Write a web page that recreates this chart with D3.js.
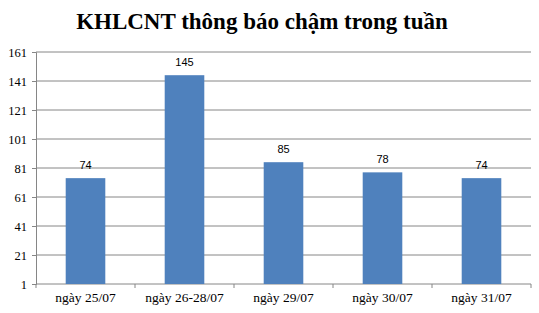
<!DOCTYPE html>
<html>
<head>
<meta charset="utf-8">
<script src="https://cdn.jsdelivr.net/npm/d3@7"></script>
<style>
  body { margin: 0; background: #fff; }
</style>
</head>
<body>
<script>
// chart data
const categories = ['ngày 25/07', 'ngày 26-28/07', 'ngày 29/07', 'ngày 30/07', 'ngày 31/07'];
const values = [74, 145, 85, 78, 74];
const yTicks = [1, 21, 41, 61, 81, 101, 121, 141, 161];

const width = 539;
const height = 313;
const margin = {top: 52, right: 8, bottom: 29, left: 36};
const innerWidth = width - margin.left - margin.right;
const innerHeight = height - margin.top - margin.bottom;

const svg = d3.select('body').append('svg').attr('width', width).attr('height', height);

// title
svg.append('text')
    .attr('x', 262).attr('y', 29)
    .attr('text-anchor', 'middle')
    .attr('font-family', 'Liberation Serif, Times New Roman, serif')
    .attr('font-weight', 'bold').attr('font-size', 23)
    .text('KHLCNT thông báo chậm trong tuần');

const grp = svg.append('g').attr('transform', `translate(${margin.left}, ${margin.top})`);

const xScale = d3.scaleBand().domain(categories).range([0, innerWidth]).paddingInner(0.6).paddingOuter(0.3);
const xEdge = d3.scaleBand().domain(categories).range([0, innerWidth]);
const yScale = d3.scaleLinear().domain([1, 161]).range([innerHeight, 0]);

// gridlines
grp.selectAll('line.grid')
    .data(yTicks.slice(1))
    .join('line')
    .attr('class', 'grid')
    .attr('x1', 0).attr('x2', innerWidth)
    .attr('y1', d => yScale(d)).attr('y2', d => yScale(d))
    .attr('stroke', '#868686').attr('stroke-width', 1);

// y axis
const yAxis = grp.append('g')
    .call(d3.axisLeft(yScale).tickValues(yTicks).tickSize(4).tickPadding(5).tickFormat(d3.format('d')));
yAxis.select('.domain').attr('stroke', '#868686');
yAxis.selectAll('.tick line').attr('stroke', '#868686');
yAxis.selectAll('text')
    .attr('font-family', 'Liberation Serif, Times New Roman, serif')
    .attr('font-size', 12.5).attr('fill', '#000');

// x axis with ticks at category edges
const xAxis = grp.append('g').attr('transform', `translate(0, ${innerHeight})`);
xAxis.append('line')
    .attr('x1', 0).attr('x2', innerWidth)
    .attr('stroke', '#868686');
xAxis.selectAll('line.tk')
    .data(categories.concat(['end']))
    .join('line')
    .attr('class', 'tk')
    .attr('x1', (d, i) => i < categories.length ? xEdge(d) : innerWidth)
    .attr('x2', (d, i) => i < categories.length ? xEdge(d) : innerWidth)
    .attr('y1', 0).attr('y2', 4)
    .attr('stroke', '#868686');
xAxis.selectAll('text')
    .data(categories)
    .join('text')
    .attr('x', d => xEdge(d) + xEdge.bandwidth() / 2)
    .attr('y', 18)
    .attr('text-anchor', 'middle')
    .attr('font-family', 'Liberation Serif, Times New Roman, serif')
    .attr('font-size', 13.5)
    .text(d => d);

// bars
grp.selectAll('rect')
    .data(values)
    .join('rect')
    .attr('x', (d, i) => xScale(categories[i]))
    .attr('y', d => yScale(d))
    .attr('width', xScale.bandwidth())
    .attr('height', d => innerHeight - yScale(d))
    .attr('fill', '#4F81BD');

// value labels
grp.selectAll('text.val')
    .data(values)
    .join('text')
    .attr('class', 'val')
    .attr('x', (d, i) => xScale(categories[i]) + xScale.bandwidth() / 2)
    .attr('y', d => yScale(d) - 9)
    .attr('text-anchor', 'middle')
    .attr('font-family', 'Liberation Sans, Arial, sans-serif')
    .attr('font-size', 11)
    .text(d => d);
</script>
</body>
</html>
